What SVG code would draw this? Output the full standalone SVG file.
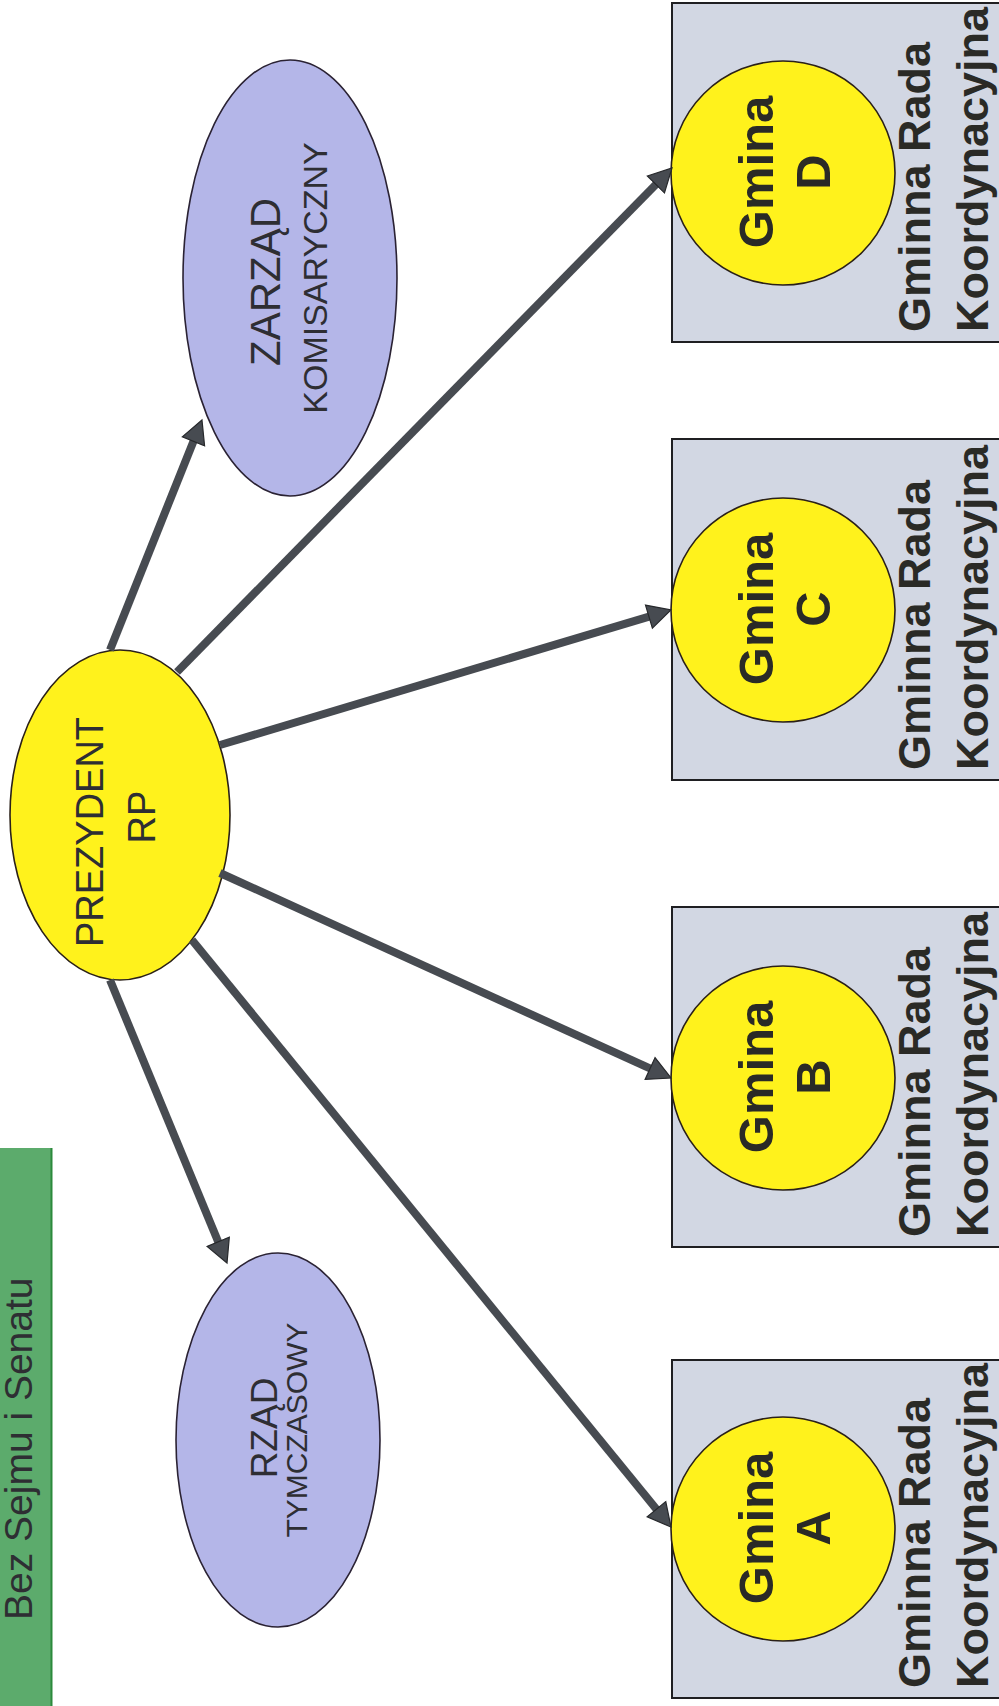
<svg xmlns="http://www.w3.org/2000/svg" width="999" height="1706" viewBox="0 0 999 1706">
<style>
.lav{fill:#b4b6e8;stroke:#2a2233;stroke-width:1.6}
.yel{fill:#fff21c;stroke:#2a2018;stroke-width:1.6}
.box{fill:#d2d7e3;stroke:#1f1f22;stroke-width:2}
.reg{font-family:"Liberation Sans",Arial,sans-serif;fill:#2e2e33}
.bold{font-family:"Liberation Sans",Arial,sans-serif;font-weight:bold;fill:#2a2a26}
.conn line{stroke:#474b51;stroke-width:8;marker-end:url(#ah)}
</style>
<defs>
<marker id="ah" markerUnits="userSpaceOnUse" viewBox="-2 -14 28 28" markerWidth="28" markerHeight="28" refX="0" refY="0" orient="auto">
<path d="M-1,-12 L22,0 L-1,12 z" fill="#474b51" stroke="#26282b" stroke-width="1.2"/>
</marker>
</defs>
<rect width="999" height="1706" fill="#ffffff"/>

<g id="banner">
<rect x="0" y="1148" width="52" height="560" fill="#5cab6c"/>
<line x1="51.5" y1="1148" x2="51.5" y2="1706" stroke="#2c8a3c" stroke-width="2"/>
<text class="reg" transform="translate(32,1620) rotate(-90)" font-size="39" fill="#263a2c">Bez Sejmu i Senatu</text>
</g>

<g id="box-A">
<rect class="box" x="672" y="1360" width="340" height="338"/>
<circle class="yel" cx="783" cy="1529" r="112"/>
<text class="bold" transform="translate(773,1528) rotate(-90)" font-size="49" text-anchor="middle">Gmina</text>
<text class="bold" transform="translate(830,1528) rotate(-90)" font-size="49" text-anchor="middle">A</text>
<text class="bold" transform="translate(930,1688) rotate(-90)" font-size="45">Gminna Rada</text>
<text class="bold" transform="translate(988,1688) rotate(-90)" font-size="45">Koordynacyjna</text>
</g>

<g id="box-B">
<rect class="box" x="672" y="907" width="340" height="340"/>
<circle class="yel" cx="783" cy="1078" r="112"/>
<text class="bold" transform="translate(773,1077) rotate(-90)" font-size="49" text-anchor="middle">Gmina</text>
<text class="bold" transform="translate(830,1077) rotate(-90)" font-size="49" text-anchor="middle">B</text>
<text class="bold" transform="translate(930,1237) rotate(-90)" font-size="45">Gminna Rada</text>
<text class="bold" transform="translate(988,1237) rotate(-90)" font-size="45">Koordynacyjna</text>
</g>

<g id="box-C">
<rect class="box" x="672" y="439" width="340" height="341"/>
<circle class="yel" cx="783" cy="610" r="112"/>
<text class="bold" transform="translate(773,609) rotate(-90)" font-size="49" text-anchor="middle">Gmina</text>
<text class="bold" transform="translate(830,609) rotate(-90)" font-size="49" text-anchor="middle">C</text>
<text class="bold" transform="translate(930,770) rotate(-90)" font-size="45">Gminna Rada</text>
<text class="bold" transform="translate(988,770) rotate(-90)" font-size="45">Koordynacyjna</text>
</g>

<g id="box-D">
<rect class="box" x="672" y="3" width="340" height="339"/>
<circle class="yel" cx="783" cy="173" r="112"/>
<text class="bold" transform="translate(773,172) rotate(-90)" font-size="49" text-anchor="middle">Gmina</text>
<text class="bold" transform="translate(830,172) rotate(-90)" font-size="49" text-anchor="middle">D</text>
<text class="bold" transform="translate(930,332) rotate(-90)" font-size="45">Gminna Rada</text>
<text class="bold" transform="translate(988,332) rotate(-90)" font-size="45">Koordynacyjna</text>
</g>

<g id="prezydent">
<ellipse class="yel" cx="120" cy="815" rx="110" ry="165"/>
<text class="reg" transform="translate(103,832) rotate(-90)" font-size="38" text-anchor="middle">PREZYDENT</text>
<text class="reg" transform="translate(155,817) rotate(-90)" font-size="38" text-anchor="middle">RP</text>
</g>

<g id="rzad-tymczasowy">
<ellipse class="lav" cx="278" cy="1440" rx="102" ry="187"/>
<text class="reg" transform="translate(277,1428) rotate(-90)" font-size="37" text-anchor="middle">RZĄD</text>
<text class="reg" transform="translate(307,1430) rotate(-90)" font-size="30" text-anchor="middle">TYMCZASOWY</text>
</g>

<g id="zarzad-komisaryczny">
<ellipse class="lav" cx="290" cy="278" rx="107" ry="218"/>
<text class="reg" transform="translate(280,282) rotate(-90)" font-size="42" text-anchor="middle">ZARZĄD</text>
<text class="reg" transform="translate(327,278) rotate(-90)" font-size="34" text-anchor="middle">KOMISARYCZNY</text>
</g>

<g id="connectors" class="conn">
<line x1="110" y1="980" x2="218.6" y2="1242.7"/>
<line x1="192" y1="940" x2="657.1" y2="1510"/>
<line x1="220" y1="873" x2="651" y2="1068.9"/>
<line x1="220" y1="745" x2="649.9" y2="616.3"/>
<line x1="177" y1="672" x2="656.6" y2="183.7"/>
<line x1="110" y1="650" x2="193.8" y2="440.4"/>
</g>
</svg>
